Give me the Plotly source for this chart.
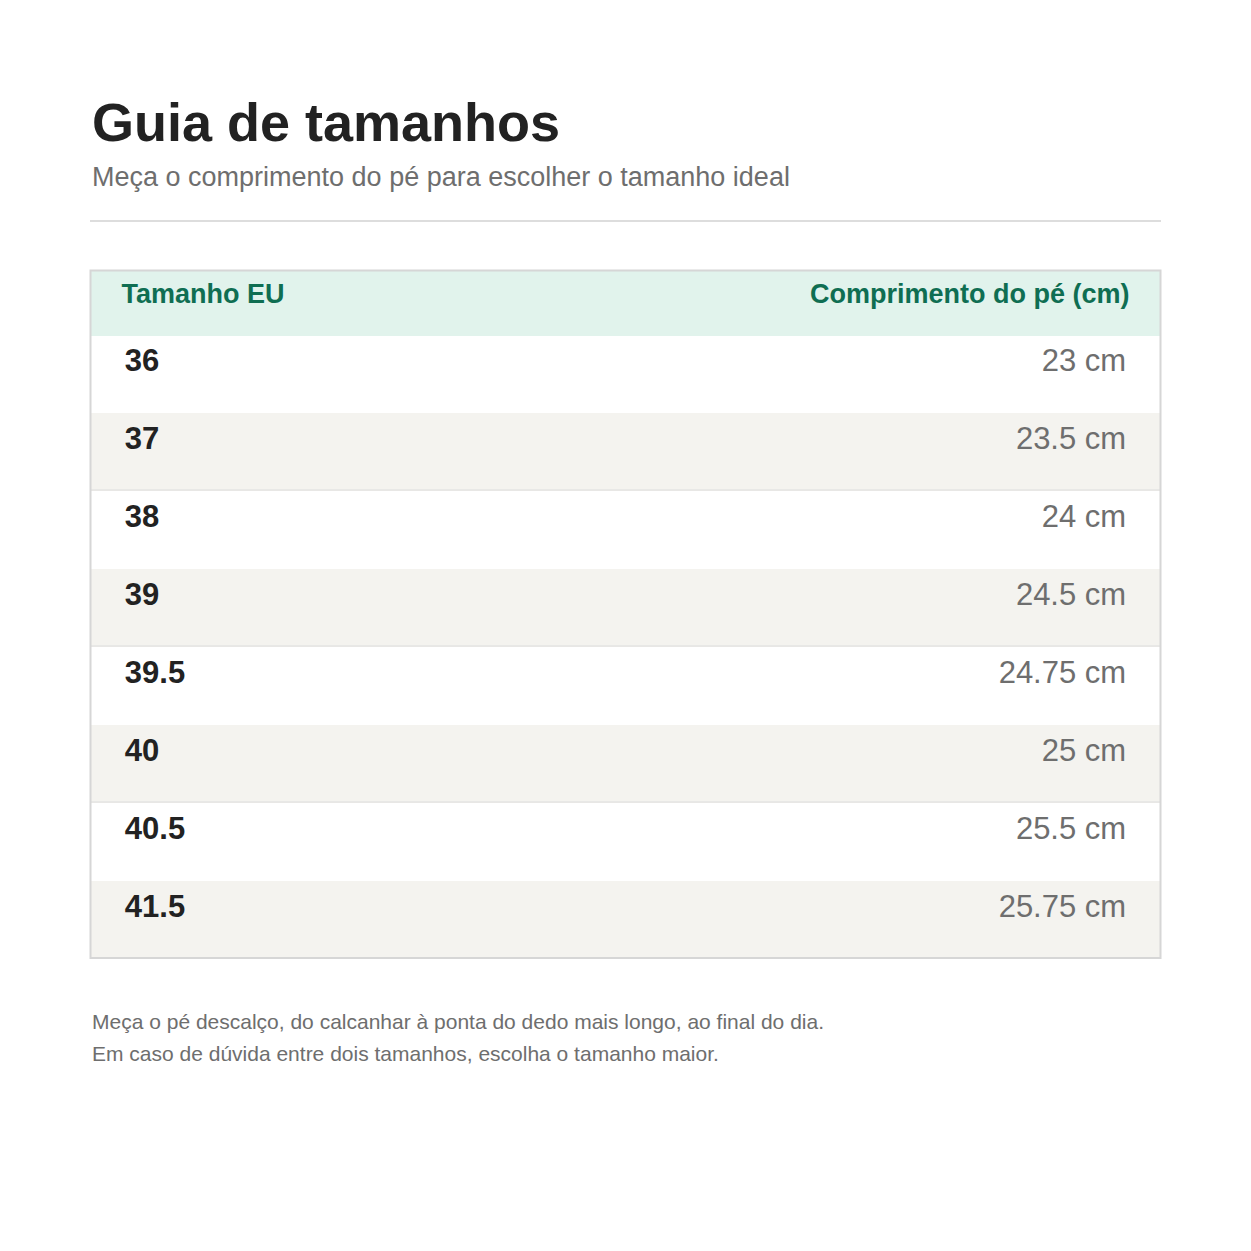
import plotly.graph_objects as go

sizes_eu = ["36", "37", "38", "39", "39.5", "40", "40.5", "41.5"]
foot_cm = [23, 23.5, 24, 24.5, 24.75, 25, 25.5, 25.75]
headers = ["Tamanho EU", "Comprimento do pé (cm)"]

W = H = 1251
OFF = 8  # page body offset
NB = "\u00a0"

def span(t, size, color, bold=False):
    w = "bold" if bold else "normal"
    return f"<br><span style='font-size:{size}px;color:{color};font-weight:{w}'>{t}</span>"

left = [span(NB * 3 + s, 31, "#222222", True) for s in sizes_eu]
right = [span(f"{v:g} cm" + NB * 3, 31, "#6e6e6e") for v in foot_cm]
fills = ["#ffffff" if i % 2 == 0 else "#f4f3ef" for i in range(len(sizes_eu))]

def py(y):
    return 1 - (y - OFF) / H

def px(x):
    return (x - OFF) / W

fig = go.Figure(go.Table(
    domain=dict(x=[px(91), px(1160)], y=[py(958), py(271)]),
    columnwidth=[1, 1],
    header=dict(values=[span(NB * 3 + headers[0], 27, "#0f6e52", True),
                        span(headers[1] + NB * 3, 27, "#0f6e52", True)],
                fill_color="#e1f3ec", line_color="#e1f3ec",
                align=["left", "right"], height=64,
                font=dict(family="Liberation Sans", size=17, color="#0f6e52")),
    cells=dict(values=[left, right],
               fill_color=[fills, fills], line_color=[fills, fills],
               align=["left", "right"], height=78,
               font=dict(family="Liberation Sans", size=20, color="#222222")),
))

for yl in [490, 646, 802]:
    fig.add_shape(type="line", xref="paper", yref="paper", x0=px(91), x1=px(1160),
                  y0=py(yl), y1=py(yl), line=dict(color="#dcdcdc", width=1))
fig.add_shape(type="rect", xref="paper", yref="paper", x0=px(90.5), x1=px(1160.5),
              y0=py(958), y1=py(270.5), line=dict(color="#d6d6d6", width=2))
fig.add_shape(type="line", xref="paper", yref="paper", x0=px(90), x1=px(1161),
              y0=py(221), y1=py(221), line=dict(color="#dddddd", width=2))

def txt(t, y, size, color, bold=False):
    fig.add_annotation(text=t, xref="paper", yref="paper", x=px(90), y=py(y),
                       xanchor="left", yanchor="middle", showarrow=False, align="left",
                       font=dict(family="Liberation Sans", size=size, color=color,
                                 weight="bold" if bold else "normal"))

txt("Guia de tamanhos", 122, 54, "#222222", True)
txt("Meça o comprimento do pé para escolher o tamanho ideal", 177, 27, "#6e6e6e")
txt("Meça o pé descalço, do calcanhar à ponta do dedo mais longo, ao final do dia.", 1021, 21, "#6e6e6e")
txt("Em caso de dúvida entre dois tamanhos, escolha o tamanho maior.", 1053, 21, "#6e6e6e")

fig.update_layout(width=W, height=H, margin=dict(l=0, r=0, t=0, b=0),
                  paper_bgcolor="white", plot_bgcolor="white")
fig.write_html("out.html")
